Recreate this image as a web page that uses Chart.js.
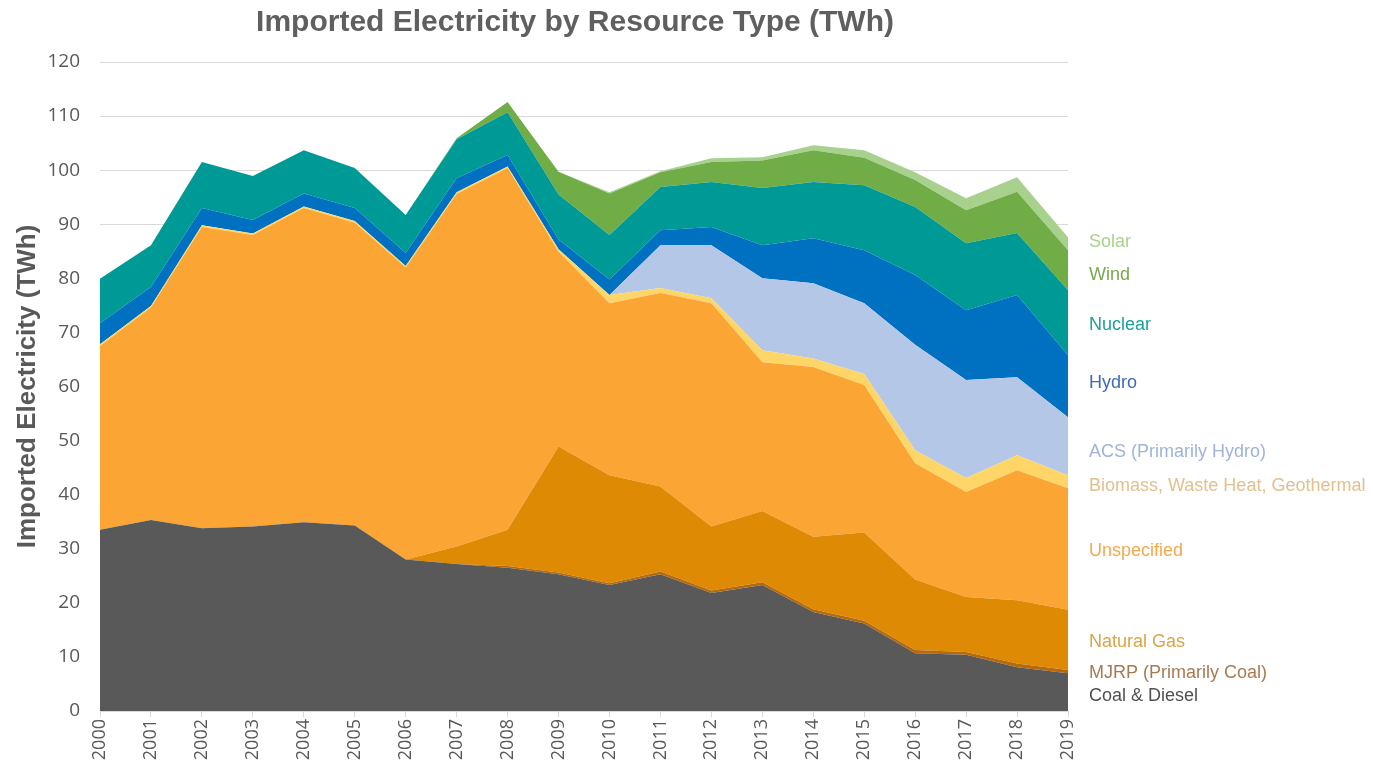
<!DOCTYPE html>
<html>
<head>
<meta charset="utf-8">
<script src="https://cdn.jsdelivr.net/npm/chart.js@4"></script>
<style>
  html, body { margin: 0; padding: 0; background: #fff; }
</style>
</head>
<body>
<canvas id="importChart" width="1373" height="770"></canvas>
<script>
var years = ['2000','2001','2002','2003','2004','2005','2006','2007','2008','2009',
             '2010','2011','2012','2013','2014','2015','2016','2017','2018','2019'];

// values per resource, TWh
var coalDiesel   = [33.5, 35.3, 33.8, 34.1, 34.9, 34.3, 28.0, 27.2, 26.5, 25.3, 23.3, 25.3, 21.8, 23.3, 18.3, 16.2, 10.7, 10.4, 8.1, 7.0];
var mjrp         = [0, 0, 0, 0, 0, 0, 0, 0, 0.3, 0.3, 0.3, 0.5, 0.5, 0.5, 0.5, 0.5, 0.6, 0.5, 0.7, 0.6];
var naturalGas   = [0, 0, 0, 0, 0, 0, 0, 3.2, 6.7, 23.3, 20.0, 15.7, 11.8, 13.2, 13.4, 16.3, 13.0, 10.2, 11.7, 11.1];
var unspecified  = [34.0, 39.3, 55.7, 53.9, 58.1, 56.0, 54.0, 65.2, 66.9, 36.0, 31.8, 35.8, 41.3, 27.5, 31.4, 27.3, 21.5, 19.4, 24.0, 22.5];
var biomass      = [0.3, 0.3, 0.3, 0.3, 0.3, 0.3, 0.3, 0.3, 0.3, 0.5, 1.5, 0.9, 0.9, 2.2, 1.6, 2.0, 2.4, 2.6, 2.8, 2.4];
var acs          = [0, 0, 0, 0, 0, 0, 0, 0, 0, 0, 0, 7.9, 9.8, 13.3, 13.9, 13.1, 19.5, 18.1, 14.4, 10.7];
var hydro        = [3.9, 3.5, 3.2, 2.5, 2.4, 2.4, 2.4, 2.6, 2.1, 1.8, 2.9, 2.8, 3.4, 6.1, 8.3, 9.8, 12.9, 12.9, 15.2, 11.5];
var nuclear      = [8.2, 7.7, 8.5, 8.1, 8.0, 7.4, 7.0, 7.2, 7.9, 8.3, 8.2, 8.0, 8.3, 10.6, 10.4, 12.0, 12.6, 12.4, 11.5, 12.0];
var wind         = [0, 0, 0, 0, 0, 0, 0, 0.2, 1.9, 4.2, 7.7, 2.7, 3.7, 5.1, 5.9, 5.1, 5.0, 6.1, 7.6, 7.4];
var solar        = [0, 0, 0, 0, 0, 0, 0, 0, 0, 0, 0.2, 0.2, 0.7, 0.6, 0.9, 1.4, 1.4, 2.2, 2.7, 2.4];

var yTicks = [0, 10, 20, 30, 40, 50, 60, 70, 80, 90, 100, 110, 120];

var seriesNames  = ['Coal & Diesel', 'MJRP (Primarily Coal)', 'Natural Gas', 'Unspecified',
                    'Biomass, Waste Heat, Geothermal', 'ACS (Primarily Hydro)', 'Hydro',
                    'Nuclear', 'Wind', 'Solar'];
var seriesData   = [coalDiesel, mjrp, naturalGas, unspecified, biomass, acs, hydro, nuclear, wind, solar];
var fillColors   = ['#595959', '#b8690a', '#de8a04', '#fba535', '#fdd667', '#b4c7e7', '#0070c0', '#009a96', '#70ad47', '#a9d18e'];
var labelColors  = ['#505050', '#a87a52', '#d8a548', '#f2a94e', '#e2c08e', '#9fb3da', '#3f6ab8', '#1a9fa0', '#7aa84f', '#a9d18e'];
// where each name sits next to the plot, in axis units
var labelAt      = [2.8, 7.0, 12.8, 29.6, 41.6, 47.9, 60.6, 71.4, 80.6, 86.7];

var datasets = seriesNames.map(function(name, i) {
    return {
        label: name,
        data: seriesData[i],
        backgroundColor: fillColors[i],
        borderWidth: 0,
        pointRadius: 0,
        tension: 0,
        fill: i === 0 ? 'origin' : '-1'
    };
});

var sideText = {
    id: 'sideText',
    afterDraw: function(chart) {
        var ctx = chart.ctx;
        var area = chart.chartArea;
        var y = chart.scales.y;
        ctx.save();
        // title
        ctx.fillStyle = '#5f5f5f';
        ctx.font = 'bold 30px "Liberation Sans", Arial, sans-serif';
        ctx.textAlign = 'center';
        ctx.textBaseline = 'middle';
        ctx.fillText('Imported Electricity by Resource Type (TWh)', 575, 23);
        // series names
        ctx.font = '18px "Liberation Sans", Arial, sans-serif';
        ctx.textAlign = 'left';
        for (var i = 0; i < seriesNames.length; i++) {
            ctx.fillStyle = labelColors[i];
            ctx.fillText(seriesNames[i], area.right + 21, y.getPixelForValue(labelAt[i]));
        }
        ctx.restore();
    }
};

var ctx = document.getElementById('importChart').getContext('2d');
var importChart = new Chart(ctx, {
    type: 'line',
    data: {
        labels: years,
        datasets: datasets
    },
    options: {
        responsive: false,
        animation: false,
        layout: {
            padding: { top: 62, right: 305, left: 0, bottom: 0 }
        },
        plugins: {
            legend: { display: false },
            tooltip: { enabled: false }
        },
        scales: {
            x: {
                grid: {
                    drawOnChartArea: false,
                    color: '#d9d9d9',
                    tickLength: 6
                },
                border: { color: '#d9d9d9' },
                ticks: {
                    minRotation: 90,
                    maxRotation: 90,
                    color: '#595959',
                    padding: 2,
                    font: { family: '"Open Sans", sans-serif', size: 18 }
                },
                afterFit: function(scale) { scale.height = 59; }
            },
            y: {
                stacked: true,
                min: 0,
                max: 120,
                afterBuildTicks: function(scale) {
                    scale.ticks = yTicks.map(function(v) { return { value: v }; });
                },
                grid: {
                    color: '#d9d9d9',
                    drawTicks: false
                },
                border: { display: false },
                ticks: {
                    color: '#595959',
                    padding: 20,
                    font: { family: '"Open Sans", sans-serif', size: 19 }
                },
                title: {
                    display: true,
                    text: 'Imported Electricity (TWh)',
                    color: '#595959',
                    font: { family: '"Liberation Sans", Arial, sans-serif', size: 26, weight: 'bold' },
                    padding: { top: 12, bottom: 0 }
                },
                afterFit: function(scale) { scale.width = 100; }
            }
        }
    },
    plugins: [sideText]
});
</script>
</body>
</html>
